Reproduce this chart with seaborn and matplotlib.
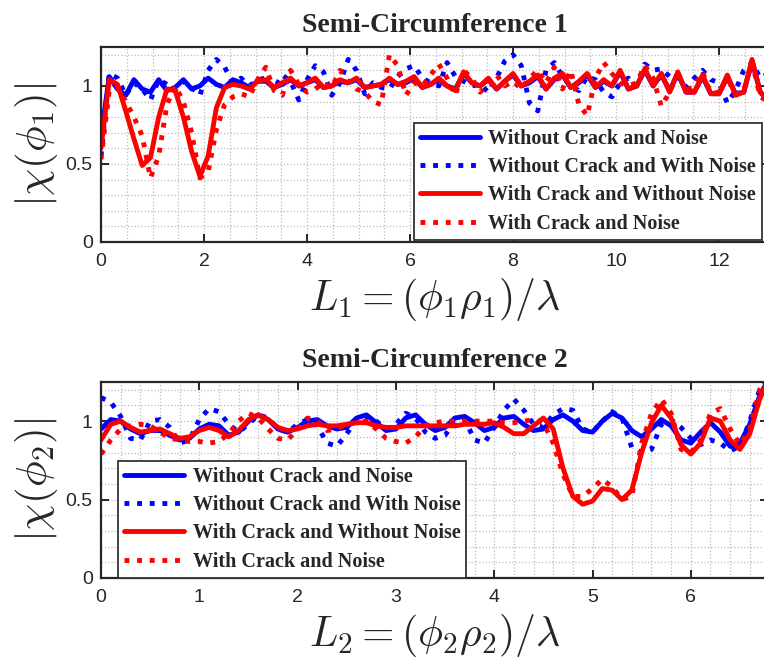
import numpy as np
import matplotlib
matplotlib.use("Agg")
import matplotlib.pyplot as plt
from matplotlib.ticker import MultipleLocator
import seaborn as sns

# ---- data: semi-circumference 1 (sampled every 0.16) ----
x1 = np.round(np.arange(82) * 0.16, 2)
s1_clean = [0.68, 1.06, 0.98, 0.94, 1.04, 0.98, 0.96, 1.04, 0.97, 0.99,
            1.04, 0.98, 1.00, 1.05, 1.01, 0.99, 1.04, 1.02, 0.99, 1.03,
            1.03, 0.99, 1.01, 1.04, 1.00, 1.02, 1.04, 0.99, 1.00, 1.03,
            1.02, 1.04, 0.99, 1.00, 1.01, 1.04, 1.01, 1.02, 1.05, 0.99,
            1.01, 1.04, 1.00, 0.98, 1.08, 1.02, 1.00, 1.04, 0.98, 1.03,
            1.07, 1.00, 1.02, 1.06, 0.98, 1.04, 1.07, 0.99, 1.02, 1.07,
            0.99, 1.03, 1.00, 1.09, 0.98, 1.00, 1.10, 1.00, 1.07, 0.97,
            1.08, 0.96, 0.96, 1.06, 0.95, 0.95, 1.06, 0.95, 0.96, 1.16,
            0.96, 0.91]
s1_clean_noise = [0.55, 1.08, 1.05, 0.94, 1.02, 0.98, 0.91, 1.04, 1.01, 0.97,
                  1.03, 0.99, 0.94, 1.10, 1.17, 1.12, 1.02, 1.05, 1.00, 1.04,
                  1.05, 0.98, 1.07, 1.03, 0.91, 1.04, 1.13, 1.09, 0.94, 1.02,
                  1.17, 1.10, 0.95, 1.02, 0.99, 0.98, 1.06, 1.11, 1.13, 1.05,
                  1.02, 1.00, 1.15, 1.06, 1.03, 1.00, 1.01, 0.96, 1.05, 1.16,
                  1.20, 1.13, 0.89, 0.84, 1.10, 1.15, 1.06, 1.00, 0.97, 1.06,
                  1.04, 0.96, 0.93, 1.02, 1.05, 1.00, 1.14, 1.10, 1.11, 1.06,
                  1.06, 0.99, 1.05, 1.10, 1.04, 1.02, 0.89, 0.97, 1.10, 1.15,
                  1.05, 1.08]
s1_crack = [0.60, 1.04, 1.01, 0.84, 0.66, 0.49, 0.54, 0.80, 0.98, 0.97,
            0.80, 0.58, 0.42, 0.55, 0.86, 0.99, 1.01, 1.00, 0.98, 1.03,
            1.04, 0.99, 1.02, 1.05, 1.00, 1.02, 1.05, 0.99, 1.00, 1.04,
            1.02, 1.05, 0.99, 1.00, 1.01, 1.05, 1.01, 1.03, 1.06, 0.99,
            1.01, 1.05, 1.00, 0.97, 1.09, 1.02, 1.00, 1.05, 0.98, 1.03,
            1.08, 1.00, 1.03, 1.07, 0.98, 1.05, 1.08, 0.99, 1.03, 1.08,
            0.99, 1.04, 1.00, 1.10, 0.98, 1.00, 1.11, 1.00, 1.08, 0.96,
            1.09, 0.96, 0.96, 1.07, 0.95, 0.95, 1.07, 0.94, 0.96, 1.17,
            0.96, 0.91]
s1_crack_noise = [0.53, 0.97, 0.99, 0.90, 0.80, 0.68, 0.41, 0.55, 0.88, 1.00,
                  0.90, 0.70, 0.41, 0.45, 0.72, 0.88, 0.93, 0.95, 0.93, 1.04,
                  1.12, 0.97, 0.94, 1.10, 1.01, 0.96, 0.98, 1.02, 0.99, 1.10,
                  1.03, 0.98, 0.96, 0.90, 0.88, 1.20, 1.13, 0.94, 1.02, 1.00,
                  1.07, 1.14, 1.05, 0.94, 1.10, 1.05, 0.96, 1.01, 1.07, 1.00,
                  1.03, 0.98, 1.05, 1.10, 1.02, 1.12, 0.98, 1.10, 0.88, 0.81,
                  1.05, 1.15, 1.08, 1.02, 1.00, 1.02, 1.13, 1.05, 0.87, 0.96,
                  1.08, 0.97, 1.00, 1.09, 0.95, 0.96, 1.05, 0.95, 0.97, 1.15,
                  0.93, 0.90]

# ---- data: semi-circumference 2 (sampled every 0.1) ----
x2 = np.round(np.arange(69) * 0.1, 2)
s2_clean = [0.95, 1.01, 1.00, 0.95, 0.92, 0.94, 0.94, 0.91, 0.88, 0.89,
            0.95, 0.98, 0.97, 0.91, 0.93, 1.00, 1.04, 1.01, 0.95, 0.93,
            0.96, 1.00, 1.01, 0.97, 0.95, 0.96, 1.02, 1.04, 0.99, 0.94,
            0.95, 1.02, 1.04, 0.98, 0.94, 0.96, 1.02, 1.03, 0.99, 0.94,
            0.96, 1.02, 1.03, 0.98, 0.94, 0.95, 1.01, 1.04, 1.00, 0.94,
            0.93, 1.00, 1.05, 1.02, 0.94, 0.90, 0.95, 1.01, 0.97, 0.88,
            0.86, 0.93, 0.99, 0.93, 0.84, 0.86, 0.98, 1.16, 1.28]
s2_clean_noise = [1.15, 1.12, 1.03, 0.89, 0.88, 1.00, 1.01, 0.96, 0.86, 0.88,
                  1.01, 1.08, 1.06, 0.98, 0.93, 0.98, 1.04, 1.02, 0.95, 0.93,
                  0.98, 1.01, 0.97, 0.86, 0.84, 0.92, 1.01, 1.03, 1.00, 0.95,
                  0.98, 1.05, 1.02, 0.93, 0.89, 0.91, 1.00, 1.01, 0.88, 0.86,
                  0.96, 1.07, 1.14, 1.07, 0.98, 0.96, 1.04, 1.08, 1.07, 0.95,
                  0.93, 1.00, 1.06, 1.02, 0.83, 0.80, 0.82, 0.98, 1.01, 0.96,
                  0.89, 0.85, 0.88, 0.86, 0.81, 0.84, 1.00, 1.20, 1.30]
s2_crack = [0.88, 0.98, 1.00, 0.96, 0.93, 0.94, 0.95, 0.92, 0.89, 0.90,
            0.94, 0.96, 0.94, 0.90, 0.94, 1.01, 1.04, 1.01, 0.96, 0.94,
            0.95, 0.97, 0.98, 0.97, 0.97, 0.98, 0.99, 0.99, 0.97, 0.96,
            0.96, 0.97, 0.97, 0.97, 0.97, 0.97, 0.97, 0.98, 0.98, 0.98,
            0.99, 0.96, 0.92, 0.92, 0.97, 1.02, 0.95, 0.70, 0.52, 0.47,
            0.49, 0.57, 0.56, 0.50, 0.56, 0.80, 0.99, 1.10, 1.02, 0.85,
            0.79, 0.86, 1.02, 1.00, 0.88, 0.82, 0.92, 1.14, 1.28]
s2_crack_noise = [0.79, 0.88, 0.95, 0.97, 0.98, 0.97, 0.93, 0.89, 0.88, 0.87,
                  0.87, 0.86, 0.87, 0.92, 1.00, 1.05, 1.02, 0.95, 0.89, 0.88,
                  0.95, 1.02, 1.00, 0.94, 0.95, 0.98, 0.99, 1.00, 0.95, 0.89,
                  0.87, 0.86, 0.90, 0.97, 0.99, 1.00, 1.00, 1.00, 1.00, 1.00,
                  1.00, 0.99, 0.99, 1.00, 1.01, 0.99, 0.86, 0.66, 0.52, 0.52,
                  0.57, 0.63, 0.58, 0.50, 0.52, 0.86, 1.05, 1.14, 1.05, 0.82,
                  0.80, 0.88, 1.05, 1.08, 0.95, 0.85, 0.95, 1.20, 1.30]

labels = ["Without Crack and Noise", "Without Crack and With Noise",
          "With Crack and Without Noise", "With Crack and Noise"]
colors = ["#0000ff", "#0000ff", "#ff0000", "#ff0000"]
dotted = (0, (1.0, 1.6))
styles = ["-", dotted, "-", dotted]

sns.set_style("ticks")
plt.rcParams["font.family"] = ["Liberation Sans", "DejaVu Sans"]
plt.rcParams["mathtext.fontset"] = "cm"

fig = plt.figure(figsize=(7.64, 6.61), dpi=100)
ax1 = fig.add_axes([0.1322, 0.634, 0.873, 0.295])
ax2 = fig.add_axes([0.1322, 0.1256, 0.873, 0.2966])

panels = [
    (ax1, x1, [s1_clean, s1_clean_noise, s1_crack, s1_crack_noise], 12.95, 2, 0.5,
     "Semi-Circumference 1", r"$L_1=(\phi_1\rho_1)/\lambda$", r"$|\chi(\phi_1)|$",
     "lower right", (0.991, 0.01)),
    (ax2, x2, [s2_clean, s2_clean_noise, s2_crack, s2_crack_noise], 6.785, 1, 0.2,
     "Semi-Circumference 2", r"$L_2=(\phi_2\rho_2)/\lambda$", r"$|\chi(\phi_2)|$",
     "lower left", (0.0255, 0.0)),
]

for ax, xs, series, xmax, xmaj, xmin, title, xlab, ylab, loc, anchor in panels:
    for ys, lab, col, ls in zip(series, labels, colors, styles):
        sns.lineplot(x=xs, y=ys, ax=ax, color=col, linestyle=ls, linewidth=3.5,
                     label=lab, sort=False, errorbar=None)
    ax.set_xlim(0, xmax)
    ax.set_ylim(0, 1.25)
    ax.xaxis.set_major_locator(MultipleLocator(xmaj))
    ax.xaxis.set_minor_locator(MultipleLocator(xmin))
    ax.yaxis.set_major_locator(MultipleLocator(0.5))
    ax.yaxis.set_minor_locator(MultipleLocator(0.1))
    ax.set_yticks([0, 0.5, 1])
    ax.set_yticklabels(["0", "0.5", "1"])
    ax.grid(True, which="both", linestyle=":", color="#bdbdbd", linewidth=0.9)
    ax.tick_params(which="major", direction="in", length=6, width=1.4,
                   top=True, right=True, labelsize=14, colors="#262626")
    ax.tick_params(axis="x", which="major", pad=8)
    ax.tick_params(axis="y", which="major", pad=6)
    ax.tick_params(which="minor", length=0)
    for sp in ax.spines.values():
        sp.set_linewidth(1.6)
        sp.set_color("#262626")
    ax.set_title(title, fontsize=20, fontweight="bold", family="Liberation Serif", pad=11)
    ax.set_xlabel(xlab, fontsize=30)
    ax.set_ylabel(ylab, fontsize=31)
    ax.xaxis.set_label_coords(0.5, -0.175)
    ax.yaxis.set_label_coords(-0.062, 0.5)
    leg = ax.legend(loc=loc, bbox_to_anchor=anchor, borderaxespad=0,
                    prop={"family": "Liberation Serif", "weight": "bold", "size": 14.5},
                    handlelength=3.0, handletextpad=0.4, labelspacing=0.42,
                    borderpad=0.3, fancybox=False, framealpha=1)
    leg.get_frame().set_edgecolor("#333333")
    leg.get_frame().set_linewidth(1.3)

fig.savefig("out.png", dpi=100)
